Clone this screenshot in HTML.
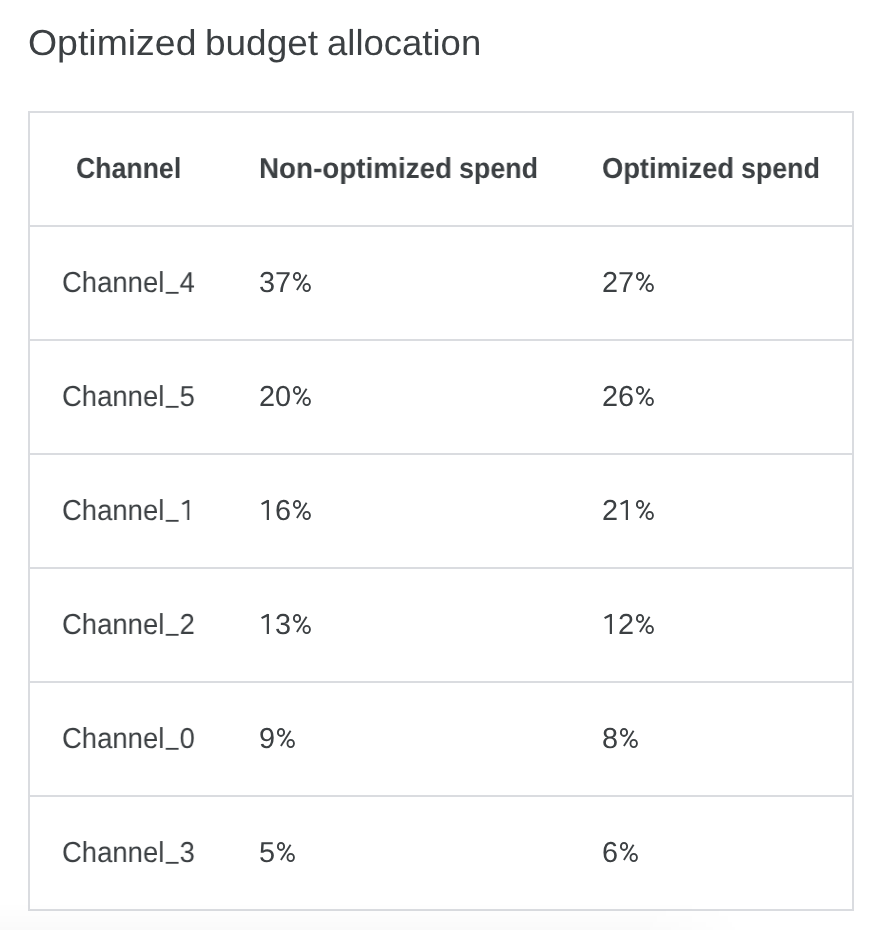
<!DOCTYPE html>
<html>
<head>
<meta charset="utf-8">
<style>
html,body{margin:0;padding:0;background:#fff;}
body{width:878px;height:930px;position:relative;overflow:hidden;font-family:"Liberation Sans",sans-serif;color:#3c4043;}
.t{position:absolute;white-space:nowrap;line-height:1;transform-origin:0 0;will-change:transform;text-rendering:geometricPrecision;}
.u{display:inline-block;transform:translate(0px,-4.50px) scaleX(0.8);transform-origin:50% 50%;}
.one{display:inline-block;vertical-align:-3px;fill:#3c4043;stroke:#3c4043;stroke-width:2.1;}
.one rect{stroke:none;}
.one path{fill:none;}
.pct{display:inline-block;vertical-align:-3px;fill:none;stroke:#3c4043;stroke-width:1.85;}
.title{font-size:36.00px;}
.box{position:absolute;left:28px;top:111px;width:822px;height:796px;border:2px solid #dadce0;}
.hl{position:absolute;left:30px;width:822px;height:2px;background:#dadce0;}
.h{font-weight:bold;font-size:28.90px;}
.d{font-size:28.90px;}
.c1{transform:scaleX(0.9501);}
.shade{position:absolute;left:0;top:902px;width:878px;height:28px;background:linear-gradient(rgba(0,0,0,0),rgba(0,0,0,0.020));z-index:5;-webkit-mask-image:linear-gradient(to right,#000 0,#000 640px,transparent 745px);mask-image:linear-gradient(to right,#000 0,#000 640px,transparent 745px);}
</style>
</head>
<body>
<div class="t title" style="left:27.65px;top:25.00px;transform:scaleX(1.0395)">Optimized</div>
<div class="t title" style="left:204.76px;top:25.00px;transform:scaleX(1.0270)">budget</div>
<div class="t title" style="left:326.80px;top:25.00px;transform:scaleX(1.0138)">allocation</div>
<div class="box"></div>
<div class="hl" style="top:225px"></div>
<div class="hl" style="top:339px"></div>
<div class="hl" style="top:453px"></div>
<div class="hl" style="top:567px"></div>
<div class="hl" style="top:681px"></div>
<div class="hl" style="top:795px"></div>
<div class="t h" style="left:75.82px;top:155.00px;transform:scaleX(0.9231)">Channel</div>
<div class="t h" style="left:258.59px;top:155.00px;transform:scaleX(0.9619)">Non-optimized</div>
<div class="t h" style="left:458.77px;top:155.00px;transform:scaleX(0.9287)">spend</div>
<div class="t h" style="left:601.93px;top:155.00px;transform:scaleX(0.9453)">Optimized</div>
<div class="t h" style="left:741.00px;top:155.00px;transform:scaleX(0.9268)">spend</div>
<div class="t d c1" style="left:62.10px;top:269.00px">Channel<span class="u">_</span>4</div>
<div class="t d" style="left:259.00px;top:269.00px">37<svg class="pct" width="20" height="24" viewBox="0 0 20 24"><ellipse cx="6" cy="5.4" rx="3.15" ry="3.55"/><ellipse cx="15.7" cy="16.5" rx="3.25" ry="3.6"/><path d="M5.9 19L15.6 3.7"/></svg></div>
<div class="t d" style="left:602.17px;top:269.00px">27<svg class="pct" width="20" height="24" viewBox="0 0 20 24"><ellipse cx="6" cy="5.4" rx="3.15" ry="3.55"/><ellipse cx="15.7" cy="16.5" rx="3.25" ry="3.6"/><path d="M5.9 19L15.6 3.7"/></svg></div>
<div class="t d c1" style="left:62.10px;top:383.00px">Channel<span class="u">_</span>5</div>
<div class="t d" style="left:259.00px;top:383.00px">20<svg class="pct" width="20" height="24" viewBox="0 0 20 24"><ellipse cx="6" cy="5.4" rx="3.15" ry="3.55"/><ellipse cx="15.7" cy="16.5" rx="3.25" ry="3.6"/><path d="M5.9 19L15.6 3.7"/></svg></div>
<div class="t d" style="left:602.17px;top:383.00px">26<svg class="pct" width="20" height="24" viewBox="0 0 20 24"><ellipse cx="6" cy="5.4" rx="3.15" ry="3.55"/><ellipse cx="15.7" cy="16.5" rx="3.25" ry="3.6"/><path d="M5.9 19L15.6 3.7"/></svg></div>
<div class="t d c1" style="left:62.10px;top:497.00px">Channel<span class="u">_</span><svg class="one" width="16.07" height="24" viewBox="0 0 16.07 24"><rect x="7.77" y="1" width="2.2" height="20"/><path d="M2.6 5.2Q5.6 3.4 9.2 1.7"/></svg></div>
<div class="t d" style="left:259.00px;top:497.00px"><svg class="one" width="16.07" height="24" viewBox="0 0 16.07 24"><rect x="7.77" y="1" width="2.2" height="20"/><path d="M2.6 5.2Q5.6 3.4 9.2 1.7"/></svg>6<svg class="pct" width="20" height="24" viewBox="0 0 20 24"><ellipse cx="6" cy="5.4" rx="3.15" ry="3.55"/><ellipse cx="15.7" cy="16.5" rx="3.25" ry="3.6"/><path d="M5.9 19L15.6 3.7"/></svg></div>
<div class="t d" style="left:602.17px;top:497.00px">2<svg class="one" width="16.07" height="24" viewBox="0 0 16.07 24"><rect x="7.77" y="1" width="2.2" height="20"/><path d="M2.6 5.2Q5.6 3.4 9.2 1.7"/></svg><svg class="pct" width="20" height="24" viewBox="0 0 20 24"><ellipse cx="6" cy="5.4" rx="3.15" ry="3.55"/><ellipse cx="15.7" cy="16.5" rx="3.25" ry="3.6"/><path d="M5.9 19L15.6 3.7"/></svg></div>
<div class="t d c1" style="left:62.10px;top:611.00px">Channel<span class="u">_</span>2</div>
<div class="t d" style="left:259.00px;top:611.00px"><svg class="one" width="16.07" height="24" viewBox="0 0 16.07 24"><rect x="7.77" y="1" width="2.2" height="20"/><path d="M2.6 5.2Q5.6 3.4 9.2 1.7"/></svg>3<svg class="pct" width="20" height="24" viewBox="0 0 20 24"><ellipse cx="6" cy="5.4" rx="3.15" ry="3.55"/><ellipse cx="15.7" cy="16.5" rx="3.25" ry="3.6"/><path d="M5.9 19L15.6 3.7"/></svg></div>
<div class="t d" style="left:602.17px;top:611.00px"><svg class="one" width="16.07" height="24" viewBox="0 0 16.07 24"><rect x="7.77" y="1" width="2.2" height="20"/><path d="M2.6 5.2Q5.6 3.4 9.2 1.7"/></svg>2<svg class="pct" width="20" height="24" viewBox="0 0 20 24"><ellipse cx="6" cy="5.4" rx="3.15" ry="3.55"/><ellipse cx="15.7" cy="16.5" rx="3.25" ry="3.6"/><path d="M5.9 19L15.6 3.7"/></svg></div>
<div class="t d c1" style="left:62.10px;top:725.00px">Channel<span class="u">_</span>0</div>
<div class="t d" style="left:259.00px;top:725.00px">9<svg class="pct" width="20" height="24" viewBox="0 0 20 24"><ellipse cx="6" cy="5.4" rx="3.15" ry="3.55"/><ellipse cx="15.7" cy="16.5" rx="3.25" ry="3.6"/><path d="M5.9 19L15.6 3.7"/></svg></div>
<div class="t d" style="left:602.17px;top:725.00px">8<svg class="pct" width="20" height="24" viewBox="0 0 20 24"><ellipse cx="6" cy="5.4" rx="3.15" ry="3.55"/><ellipse cx="15.7" cy="16.5" rx="3.25" ry="3.6"/><path d="M5.9 19L15.6 3.7"/></svg></div>
<div class="t d c1" style="left:62.10px;top:839.00px">Channel<span class="u">_</span>3</div>
<div class="t d" style="left:259.00px;top:839.00px">5<svg class="pct" width="20" height="24" viewBox="0 0 20 24"><ellipse cx="6" cy="5.4" rx="3.15" ry="3.55"/><ellipse cx="15.7" cy="16.5" rx="3.25" ry="3.6"/><path d="M5.9 19L15.6 3.7"/></svg></div>
<div class="t d" style="left:602.17px;top:839.00px">6<svg class="pct" width="20" height="24" viewBox="0 0 20 24"><ellipse cx="6" cy="5.4" rx="3.15" ry="3.55"/><ellipse cx="15.7" cy="16.5" rx="3.25" ry="3.6"/><path d="M5.9 19L15.6 3.7"/></svg></div>
<div class="shade"></div>
</body>
</html>
